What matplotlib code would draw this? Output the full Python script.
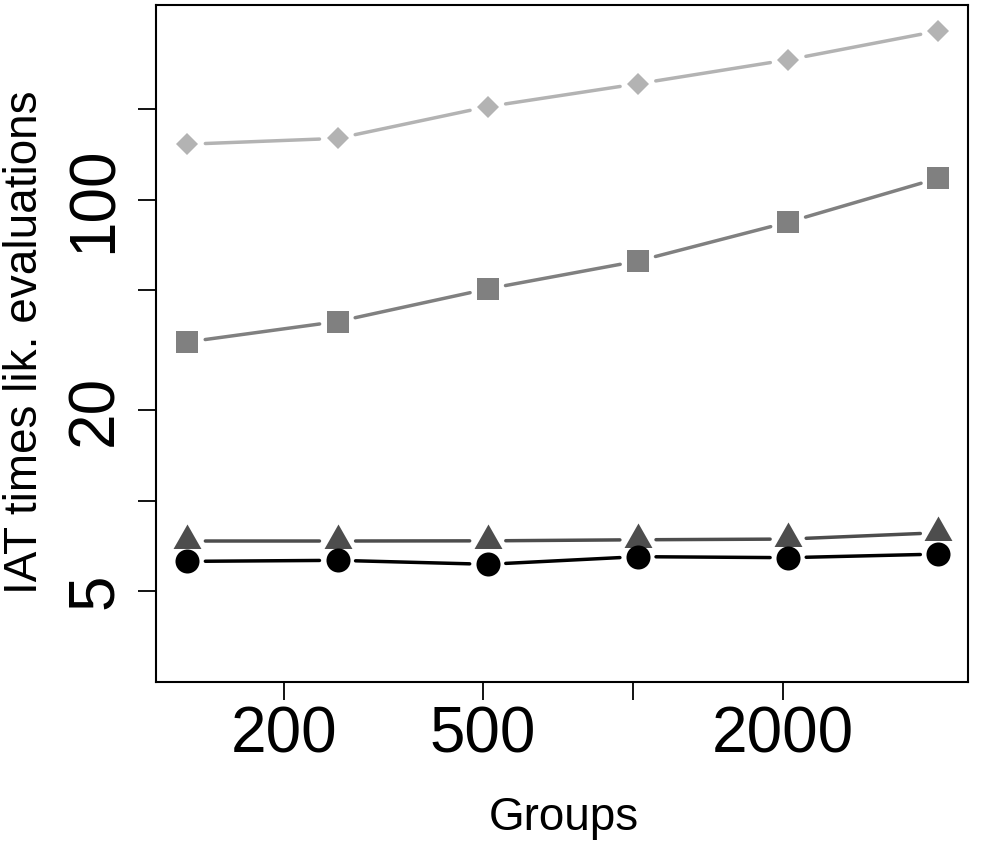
import numpy as np
import matplotlib
matplotlib.use("Agg")
import matplotlib.pyplot as plt
from matplotlib.patches import FancyArrowPatch
from matplotlib.path import Path
from matplotlib.ticker import FixedLocator, FixedFormatter, NullLocator

plt.rcParams["font.family"] = ["Liberation Sans", "DejaVu Sans"]

# ─── Datos ────────────────────────────────────────────────────────────────────
grupos = [128, 256, 512, 1024, 2048, 4096]
serie_rombo    = [153, 160, 204, 243, 292, 364]
serie_cuadrado = [33.7, 39.4, 50.6, 62.6, 84.3, 118]
serie_triang   = [7.35, 7.35, 7.36, 7.42, 7.46, 7.83]
serie_circulo  = [6.29, 6.34, 6.15, 6.52, 6.47, 6.65]

yticks = [5, 10, 20, 50, 100, 200]
yticklabels = ["5", "", "20", "", "100", ""]
xticks = [200, 500, 1000, 2000]
xticklabels = ["200", "500", "", "2000"]

# triángulo estilo R (centro desplazado hacia abajo)
TRI = Path([(0, 1.0), (-0.82, -0.44), (0.82, -0.44), (0, 1.0)],
           [Path.MOVETO, Path.LINETO, Path.LINETO, Path.CLOSEPOLY])

series = [
    (serie_rombo,    "#B3B3B3", "D", 10.7),
    (serie_cuadrado, "#808080", "s", 15.8),
    (serie_triang,   "#4D4D4D", TRI, 24.5),
    (serie_circulo,  "#000000", "o", 17.3),
]

fig = plt.figure(figsize=(9.82, 8.41), dpi=100)
ax = fig.add_axes([0.1589, 0.1891, 0.8268, 0.805])
ax.set_xscale("log")
ax.set_yscale("log")
ax.set_xlim(110.8, 4695)
ax.set_ylim(2.5, 444)

# líneas tipo "b" (con huecos alrededor de los puntos) + puntos
for valores, color, marca, tam in series:
    for i in range(len(grupos) - 1):
        seg = FancyArrowPatch((grupos[i], valores[i]), (grupos[i + 1], valores[i + 1]),
                              arrowstyle="-", shrinkA=13, shrinkB=13,
                              color=color, lw=2.5)
        ax.add_patch(seg)
    ax.plot(grupos, valores, linestyle="none", marker=marca, markersize=tam,
            color=color, markeredgewidth=0)

# ejes
ax.xaxis.set_major_locator(FixedLocator(xticks))
ax.xaxis.set_major_formatter(FixedFormatter(xticklabels))
ax.xaxis.set_minor_locator(NullLocator())
ax.yaxis.set_major_locator(FixedLocator(yticks))
ax.yaxis.set_major_formatter(FixedFormatter(yticklabels))
ax.yaxis.set_minor_locator(NullLocator())

ax.tick_params(axis="both", direction="out", length=13, width=1.3,
               labelsize=46, color="black")
ax.tick_params(axis="x", pad=4)
ax.tick_params(axis="y", pad=9.5, labelrotation=90)
for lab in ax.get_yticklabels():
    lab.set_verticalalignment("center")
for sp in ax.spines.values():
    sp.set_linewidth(1.5)

fig.text(3 / 982, 1 - 342.5 / 841, "IAT times lik. evaluations", rotation=90,
         ha="left", va="center", fontsize=33)
fig.text(564 / 982, 1 - 830 / 841, "Groups", ha="center", va="baseline",
         fontsize=33)

fig.savefig("out.png", dpi=100, facecolor="white")
